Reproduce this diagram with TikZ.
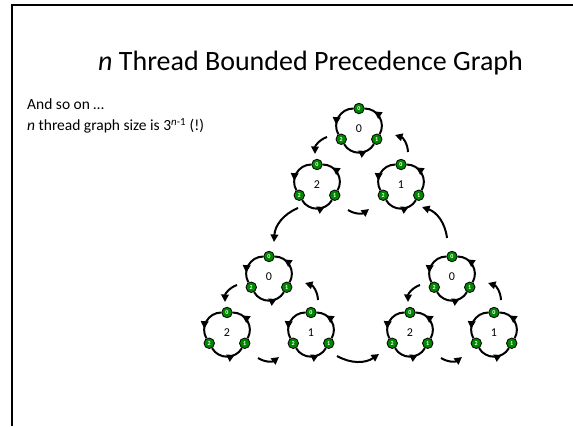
\documentclass[tikz,border=0pt]{standalone}
\usepackage{fontspec}
\setmainfont{Carlito}
\usetikzlibrary{arrows.meta,decorations.markings}

\tikzset{
  x=1pt, y=1pt,
  frameline/.style={line width=2pt},
  clab/.style={circle, minimum size=41pt, inner sep=0pt, font=\fontsize{12}{12}\selectfont},
  dot/.style={circle, draw=black, line width=0.8pt, fill={rgb,255:red,0;green,135;blue,0},
    minimum size=10.5pt, inner sep=0pt, text=white, font=\fontsize{6}{6}\selectfont\bfseries},
  carc/.style={line width=2pt, bend right=60, looseness=1.13,
    postaction={decorate},
    decoration={markings, mark=at position 0.72 with {\arrow{Triangle[length=7.5pt,width=7.5pt]}}}},
  link/.style={line width=2pt, -{Triangle[length=7.5pt,width=7.5pt]}, bend right=35},
  biglink/.style={line width=2pt, -{Triangle[length=7.5pt,width=7.5pt]}, bend right=32},
}

% one thread cycle: name, x, y (measured from the top), centre label
\newcommand{\thrcycle}[4]{%
  \node[clab] (#1) at ({#2}, {426-(#3)}) {#4};
  \path (#1) ++(90:20.5) node[dot] (#1t) {0};
  \path (#1) ++(-30:20.5) node[dot] (#1r) {1};
  \path (#1) ++(210:20.5) node[dot] (#1l) {2};
  \draw[carc] (#1r) to (#1t);
  \draw[carc] (#1t) to (#1l);
  \draw[carc] (#1l) to (#1r);
}

% the three cycles of one group, with the short links between them;
% name prefix, x and y of the top cycle
\newcommand{\thrgroup}[3]{%
  \thrcycle{#1A}{#2}{#3}{0}
  \thrcycle{#1C}{#2-42}{#3+56}{2}
  \thrcycle{#1B}{#2+42}{#3+56}{1}
  \coordinate (#1a1) at (#2-32, 426-#3-8);
  \coordinate (#1a2) at (#2-44, 426-#3-25);
  \coordinate (#1b1) at (#2+49, 426-#3-23);
  \coordinate (#1b2) at (#2+36, 426-#3-6);
  \coordinate (#1c1) at (#2-11, 426-#3-81);
  \coordinate (#1c2) at (#2+10, 426-#3-80);
  \draw[link] (#1a1) to (#1a2);
  \draw[link] (#1b1) to (#1b2);
  \draw[link] (#1c1) to (#1c2);
}

\begin{document}
\begin{tikzpicture}
\useasboundingbox (0,0) rectangle (573,426);

% slide frame
\draw[frameline] (12,0) -- (12,421) -- (573,421);

% title and text
\node[anchor=base west, inner sep=0pt, font=\fontsize{28}{30}\selectfont] (title)
  at (98, 426-71) {\textit{n} Thread Bounded Precedence Graph};
\node[anchor=base west, inner sep=0pt, font=\fontsize{15.5}{18}\selectfont] (line1)
  at (27, 426-110) {And so on …};
\node[anchor=base west, inner sep=0pt, font=\fontsize{15.5}{18}\selectfont] (line2)
  at (27, 426-131) {\textit{n} thread graph size is 3\textsuperscript{\textit{n}-1} (!)};

% the three groups
\thrgroup{T}{359}{129}
\thrgroup{L}{269}{277}
\thrgroup{R}{452}{277}

% links between groups
\coordinate (g1) at (298, 426-208);
\coordinate (g2) at (274, 426-242);
\coordinate (g3) at (337, 426-356);
\coordinate (g4) at (379, 426-354);
\coordinate (g5) at (447, 426-238);
\coordinate (g6) at (422, 426-207);
\draw[biglink] (g1) to (g2);
\draw[biglink] (g3) to (g4);
\draw[biglink] (g5) to (g6);
\end{tikzpicture}
\end{document}
